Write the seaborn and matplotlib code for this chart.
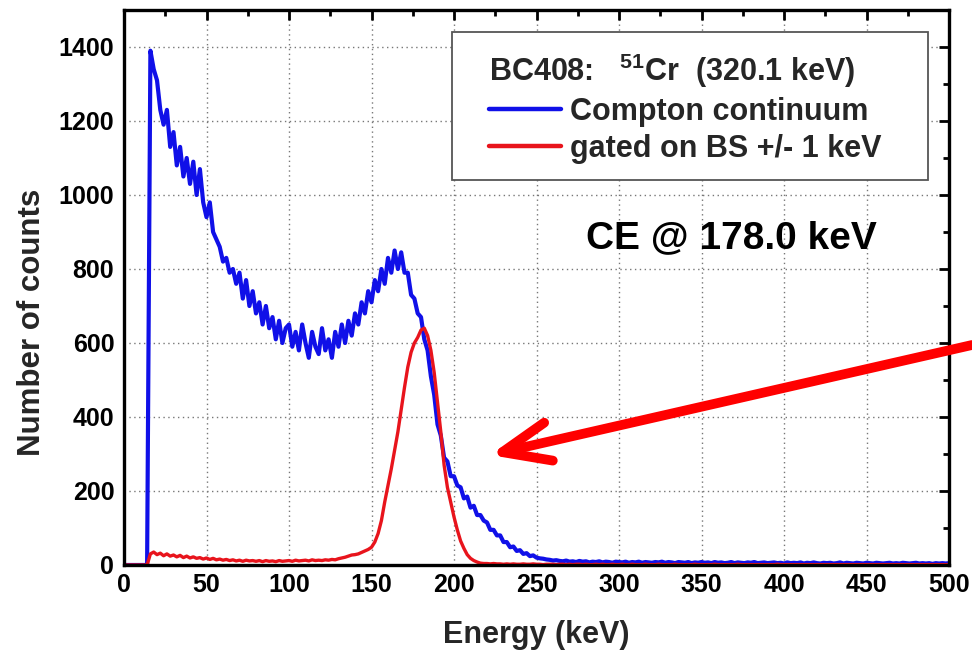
import numpy as np
import pandas as pd
import matplotlib
matplotlib.use("Agg")
import matplotlib.pyplot as plt
from matplotlib.patches import FancyArrowPatch, Rectangle
from matplotlib.ticker import MultipleLocator
import seaborn as sns

# ---------------- data ----------------
energy_step_kev = 2
energy_kev = np.arange(0, 501, energy_step_kev)

compton_counts = [
    0, 0, 0, 0, 0, 0, 0, 0,
    1390, 1340, 1310, 1230, 1190, 1230, 1130, 1170, 1080, 1130, 1050, 1100, 1030, 1090, 1000, 1070, 980,
    940, 980, 900, 880, 860, 820, 830, 790, 800, 760, 790, 720, 770, 700, 740, 680, 710, 650, 700, 640, 670, 610, 660, 600, 640,
    650, 590, 630, 580, 650, 600, 560, 630, 590, 570, 640, 580, 610, 560, 630, 590, 650, 600, 660, 620, 680, 650, 710, 680, 740,
    710, 770, 740, 800, 760, 830, 790, 850, 800, 845, 790, 790, 730, 720, 680, 670, 610, 580, 510, 460, 380, 350, 290, 280, 240,
    240, 215, 210, 180, 185, 155, 160, 135, 135, 120, 115, 95, 95, 80, 80, 62, 62, 48, 50, 38, 40, 30, 32, 24, 26,
    20, 18, 17, 15, 14, 12, 13, 11, 10, 12, 9,
    10, 8, 11, 9, 10, 7, 9, 8, 10, 7, 9, 8, 6, 9, 8, 7, 9, 6, 8, 7,
    9, 6, 8, 7, 6, 8, 7, 9, 6, 8, 7, 5, 8, 7, 6, 8, 5, 7, 6, 8,
    6, 7, 5, 8, 6, 7, 5, 6, 8, 5, 7, 6, 5, 7, 6, 8, 5, 6, 7, 5,
    6, 7, 5, 6, 4, 7, 5, 6, 5, 7, 4, 6, 5, 7, 5, 4, 6, 5, 6, 4,
    5, 7, 4, 6, 5, 4, 6, 5, 4, 6, 5, 4, 6, 5, 4, 5, 6, 4, 5, 4,
    6, 5, 4, 5, 6, 4, 5, 4, 5, 3, 5, 4, 5, 4, 5,
]

gated_counts = [
    0, 0, 0, 0, 0, 0, 0, 0,
    30, 35, 28, 32, 25, 30, 24, 27, 22, 26, 20, 24, 19, 22, 18, 20, 16,
    19, 15, 18, 14, 16, 13, 15, 12, 14, 11, 13, 10, 13, 11, 12, 10, 12, 9, 12, 10, 11, 9, 12, 10, 11,
    12, 10, 13, 11, 12, 13, 11, 14, 12, 13, 12, 14, 13, 15, 14, 17, 19, 21, 24, 27,
    28, 30, 34, 38, 42, 48, 62, 85, 120, 170,
    215, 260, 310, 360, 420, 480, 535, 575, 600, 615,
    635, 640, 620, 580, 520, 440, 360, 270, 210, 170,
    130, 95, 65, 45, 28, 18, 12, 8, 5, 4,
    4, 3, 4, 3, 3, 2, 3, 2, 3, 2, 2, 3, 2, 2, 3, 2, 2, 1, 2, 2,
    2, 1, 2, 2, 1, 2, 1, 2, 2, 1, 2, 1, 1, 2, 1, 2, 1, 1, 2, 1,
    1, 2, 1, 1, 2, 1, 1, 1, 2, 1, 1, 1, 2, 1, 1, 1, 1, 2, 1, 1,
    1, 1, 1, 2, 1, 1, 1, 1, 1, 2, 1, 1, 1, 1, 1, 1, 2, 1, 1, 1,
    1, 1, 1, 1, 1, 1, 1, 1, 2, 1, 1, 1, 1, 1, 1, 1, 1, 1, 1, 1,
    1, 1, 1, 1, 1, 1, 1, 1, 1, 1, 1, 1, 1, 1, 1, 1, 1, 1, 1, 1,
    1, 1, 1, 1, 1, 1, 1, 1, 1, 1, 1, 1, 1, 1, 1, 1, 1, 1, 1, 1,
    1,
]

series_labels = ["Compton continuum", "gated on BS +/- 1 keV"]
legend_title = r"BC408:   $^{\mathbf{51}}$Cr  (320.1 keV)"
annotation_text = "CE @ 178.0 keV"
annotation_pos = (368, 884)
x_ticks = [0, 50, 100, 150, 200, 250, 300, 350, 400, 450, 500]
y_ticks = [0, 200, 400, 600, 800, 1000, 1200, 1400]

# ---------------- style ----------------
sns.set_theme(style="white")
plt.rcParams["font.family"] = ["Liberation Sans", "DejaVu Sans"]
plt.rcParams["font.weight"] = "bold"
plt.rcParams["axes.labelweight"] = "bold"
plt.rcParams["mathtext.fontset"] = "custom"
plt.rcParams["mathtext.rm"] = "Liberation Sans:bold"
plt.rcParams["mathtext.bf"] = "Liberation Sans:bold"

df = pd.DataFrame({"Energy": energy_kev,
                   series_labels[0]: compton_counts,
                   series_labels[1]: gated_counts})

W, H = 972, 654
fig = plt.figure(figsize=(W / 100, H / 100), dpi=100)
ax_l, ax_r, ax_t, ax_b = 124, 949, 10, 565
ax = fig.add_axes([ax_l / W, 1 - ax_b / H, (ax_r - ax_l) / W, (ax_b - ax_t) / H])


def axfrac(px, py):
    return ((px - ax_l) / (ax_r - ax_l), (ax_b - py) / (ax_b - ax_t))


sns.lineplot(data=df, x="Energy", y=series_labels[0], ax=ax, color="#1010e8",
             lw=3.0, label=series_labels[0])
sns.lineplot(data=df, x="Energy", y=series_labels[1], ax=ax, color="#e8141c",
             lw=2.4, label=series_labels[1])

ax.set_xlim(0, 500)
ax.set_ylim(0, 1500)
ax.set_xticks(x_ticks)
ax.set_yticks(y_ticks)
ax.xaxis.set_minor_locator(MultipleLocator(25))
ax.yaxis.set_minor_locator(MultipleLocator(100))
ax.tick_params(which="both", direction="in", top=True, right=True,
               labelsize=18, width=2.0, colors="black")
ax.tick_params(which="major", length=7)
ax.tick_params(which="minor", length=4)
ax.tick_params(axis="x", pad=6)
ax.tick_params(axis="y", pad=7)
for lab in ax.get_xticklabels() + ax.get_yticklabels():
    lab.set_fontweight("bold")

for sp in ax.spines.values():
    sp.set_color("black")
    sp.set_linewidth(2.4)

ax.grid(True, which="major", linestyle=(0, (1, 2.5)), color="#777777", linewidth=1.0)
ax.set_axisbelow(True)

ax.set_xlabel("Energy (keV)", fontsize=22, fontweight="bold")
ax.set_ylabel("Number of counts", fontsize=22.5, fontweight="bold")
ax.xaxis.set_label_coords(0.5, axfrac(0, 620)[1])
ax.yaxis.set_label_coords(axfrac(47, 0)[0], axfrac(0, 322)[1])

# legend frame (white box, grey edge)
x0, y0 = axfrac(452, 180)
x1, y1 = axfrac(928, 32)
ax.add_patch(Rectangle((x0, y0), x1 - x0, y1 - y0, transform=ax.transAxes,
                       facecolor="white", edgecolor="#555555", lw=1.3, zorder=4))

leg = ax.legend(title=legend_title, loc="upper left",
                bbox_to_anchor=axfrac(489, 52),
                borderaxespad=0, borderpad=0, fontsize=22, title_fontsize=22,
                frameon=False, handlelength=2.35, handletextpad=0.3,
                labelspacing=0.22)
leg.set_zorder(5)
leg._legend_box.align = "left"
leg.get_title().set_fontweight("bold")
for t in leg.get_texts():
    t.set_fontweight("bold")
for h in leg.legend_handles:
    h.set_linewidth(3.2)

ax.text(annotation_pos[0], annotation_pos[1], annotation_text, fontsize=28,
        fontweight="bold", ha="center", va="center", color="black")

arrow = FancyArrowPatch((1.0, 1 - 345 / H), (490 / W, 1 - 455 / H),
                        transform=fig.transFigure,
                        arrowstyle="->,head_length=3.4,head_width=1.4",
                        mutation_scale=10, color="#ff0000", lw=7,
                        capstyle="round", joinstyle="round",
                        shrinkA=0, shrinkB=0)
fig.add_artist(arrow)

fig.savefig("out.png", dpi=100)
